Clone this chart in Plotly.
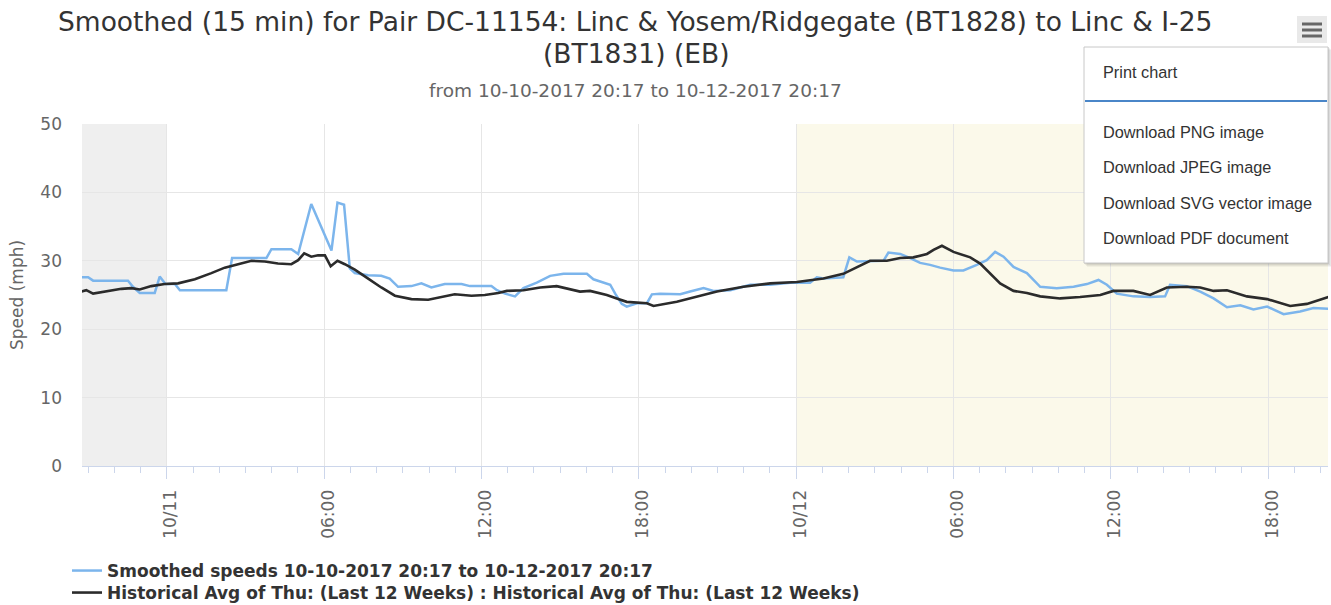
import pandas as pd
import plotly.graph_objects as go

# ---------------- data ----------------
BASE = "2017-10-11 00:00"          # hours below are measured from this instant
RANGE_START = "2017-10-10 20:46"
RANGE_END = "2017-10-12 20:17"

smoothed_hours = [-3.26, -3.00, -2.81, -1.48, -1.29, -1.03, -0.46, -0.27, -0.05, 0.31,
                  0.50, 2.27, 2.49, 3.80, 3.99, 4.75, 5.01, 5.51, 6.28, 6.51,
                  6.76, 6.98, 7.17, 7.68, 8.18, 8.50, 8.82, 9.33, 9.71, 10.09,
                  10.60, 11.24, 11.56, 12.38, 12.59, 12.90, 13.28, 13.60, 14.11, 14.62,
                  15.13, 16.02, 16.27, 16.91, 17.10, 17.35, 17.54, 17.93, 18.31, 18.50,
                  18.81, 19.58, 19.96, 20.47, 20.85, 21.49, 22.25, 23.01, 23.77, 24.53,
                  24.79, 25.04, 25.80, 26.03, 26.32, 26.70, 27.33, 27.52, 27.97, 28.35,
                  28.73, 29.11, 29.49, 30.00, 30.38, 30.89, 31.27, 31.59, 31.91, 32.29,
                  32.80, 33.31, 33.94, 34.58, 35.09, 35.53, 35.85, 36.23, 36.86, 37.50,
                  38.07, 38.26, 38.90, 39.41, 39.92, 40.43, 40.94, 41.44, 41.96, 42.59,
                  43.22, 43.73, 44.30]
smoothed_speed = [27.6, 27.6, 27.1, 27.1, 26.2, 25.3, 25.3, 27.7, 26.6, 26.6,
                  25.7, 25.7, 30.4, 30.4, 31.7, 31.7, 31.0, 38.3, 31.5, 38.5,
                  38.2, 28.9, 28.2, 27.9, 27.8, 27.4, 26.2, 26.3, 26.7, 26.1,
                  26.6, 26.6, 26.3, 26.3, 25.7, 25.2, 24.8, 26.0, 26.8, 27.8,
                  28.1, 28.1, 27.3, 26.5, 25.2, 23.7, 23.3, 23.8, 23.8, 25.1,
                  25.2, 25.1, 25.5, 26.0, 25.6, 25.7, 26.5, 26.5, 26.8, 26.8,
                  27.6, 27.4, 27.6, 30.5, 29.9, 29.9, 30.0, 31.2, 31.0, 30.4,
                  29.7, 29.4, 29.0, 28.6, 28.6, 29.4, 30.1, 31.3, 30.6, 29.1,
                  28.2, 26.2, 26.0, 26.2, 26.6, 27.2, 26.5, 25.2, 24.8, 24.7,
                  24.8, 26.5, 26.3, 25.5, 24.5, 23.2, 23.5, 22.9, 23.3, 22.2,
                  22.6, 23.1, 23.0]

hist_hours = [-3.26, -3.07, -2.81, -2.36, -1.73, -1.35, -1.03, -0.59, -0.08, 0.43,
              1.07, 1.70, 2.21, 2.72, 3.23, 3.74, 4.24, 4.75, 5.01, 5.24,
              5.51, 5.77, 6.03, 6.25, 6.51, 6.79, 7.17, 7.68, 8.18, 8.70,
              9.33, 9.97, 10.47, 10.98, 11.62, 12.13, 12.64, 12.97, 13.60, 14.24,
              14.87, 15.38, 15.76, 16.14, 16.78, 17.16, 17.54, 18.31, 18.56, 19.45,
              20.21, 20.98, 21.99, 23.01, 24.03, 25.04, 25.80, 26.32, 26.82, 27.46,
              27.97, 28.47, 28.99, 29.24, 29.56, 30.00, 30.64, 31.02, 31.40, 31.78,
              32.29, 32.80, 33.31, 34.07, 34.83, 35.60, 36.10, 36.86, 37.50, 38.14,
              38.90, 39.41, 39.92, 40.43, 41.19, 41.96, 42.84, 43.48, 44.30]
hist_speed = [25.5, 25.7, 25.2, 25.5, 25.9, 26.0, 25.8, 26.3, 26.6, 26.7,
              27.3, 28.2, 29.0, 29.5, 30.0, 29.9, 29.6, 29.5, 30.1, 31.1,
              30.6, 30.8, 30.8, 29.2, 30.0, 29.5, 28.7, 27.4, 26.1, 24.9,
              24.4, 24.3, 24.7, 25.1, 24.9, 25.0, 25.3, 25.6, 25.7, 26.1,
              26.3, 25.9, 25.5, 25.6, 25.0, 24.5, 24.0, 23.8, 23.4, 24.0,
              24.8, 25.5, 26.2, 26.7, 26.9, 27.4, 28.1, 29.1, 30.0, 30.0,
              30.4, 30.5, 31.0, 31.6, 32.2, 31.3, 30.5, 29.6, 28.2, 26.7,
              25.6, 25.3, 24.8, 24.5, 24.7, 25.0, 25.6, 25.6, 25.0, 26.1,
              26.2, 26.1, 25.6, 25.7, 24.8, 24.4, 23.4, 23.7, 24.7]

series_names = ["Smoothed speeds 10-10-2017 20:17 to 10-12-2017 20:17",
                "Historical Avg of Thu: (Last 12 Weeks) : Historical Avg of Thu: (Last 12 Weeks)"]

tick_times = ["2017-10-11 00:00", "2017-10-11 06:00", "2017-10-11 12:00", "2017-10-11 18:00",
              "2017-10-12 00:00", "2017-10-12 06:00", "2017-10-12 12:00", "2017-10-12 18:00"]
tick_labels = ["10/11", "06:00", "12:00", "18:00", "10/12", "06:00", "12:00", "18:00"]

gray_band = [RANGE_START, "2017-10-11 00:00"]
yellow_band = ["2017-10-12 00:00", RANGE_END]

title_line1 = "Smoothed (15 min) for Pair DC-11154: Linc & Yosem/Ridgegate (BT1828) to Linc & I-25"
title_line2 = "(BT1831) (EB)"
subtitle = "from 10-10-2017 20:17 to 10-12-2017 20:17"
menu_items = ["Print chart", "Download PNG image", "Download JPEG image",
              "Download SVG vector image", "Download PDF document"]

# ---------------- layout geometry (page pixels) ----------------
W, H = 1331, 605
PLOT_X0, PLOT_X1, PLOT_Y0, PLOT_Y1 = 82, 1328, 124, 466
L, R, T, B = PLOT_X0, W - PLOT_X1, PLOT_Y0, H - PLOT_Y1
PW, PH = PLOT_X1 - PLOT_X0, PLOT_Y1 - PLOT_Y0


def px(x):
    return (x - PLOT_X0) / PW


def py(y):
    return (PLOT_Y1 - y) / PH


base = pd.Timestamp(BASE)
x_sm = base + pd.to_timedelta(smoothed_hours, unit="h")
x_hi = base + pd.to_timedelta(hist_hours, unit="h")

FONT = "DejaVu Sans"
fig = go.Figure()
fig.add_trace(go.Scatter(x=x_sm, y=smoothed_speed, mode="lines", name=series_names[0],
                         line=dict(color="#7cb5ec", width=2.5), legend="legend"))
fig.add_trace(go.Scatter(x=x_hi, y=hist_speed, mode="lines", name=series_names[1],
                         line=dict(color="#2b2b2b", width=2.6), legend="legend2"))

shapes = [
    dict(type="rect", xref="x", yref="paper", x0=gray_band[0], x1=gray_band[1], y0=0, y1=1,
         fillcolor="#efefef", line_width=0, layer="below"),
    dict(type="rect", xref="x", yref="paper", x0=yellow_band[0], x1=yellow_band[1], y0=0, y1=1,
         fillcolor="#fbf9ea", line_width=0, layer="below"),
]

# export button (hamburger)
shapes.append(dict(type="rect", xref="paper", yref="paper", x0=px(1297), x1=px(1327),
                   y0=py(43), y1=py(16), fillcolor="#e9e9e9", line_width=0, layer="above"))
for yy in (24, 30, 36):
    shapes.append(dict(type="line", xref="paper", yref="paper", x0=px(1302), x1=px(1322),
                       y0=py(yy), y1=py(yy), line=dict(color="#666666", width=3), layer="above"))

# export menu box with soft shadow
for i, a in enumerate([0.04, 0.05, 0.06, 0.08]):
    off = 4 - i
    shapes.append(dict(type="rect", xref="paper", yref="paper",
                       x0=px(1084 + off - 1), x1=px(1328 + off), y0=py(263 + off), y1=py(47 + off - 1),
                       fillcolor=f"rgba(0,0,0,{a})", line_width=0, layer="above"))
shapes.append(dict(type="rect", xref="paper", yref="paper", x0=px(1084), x1=px(1328),
                   y0=py(263), y1=py(47), fillcolor="#ffffff",
                   line=dict(color="#c8c8c8", width=1), layer="above"))
shapes.append(dict(type="line", xref="paper", yref="paper", x0=px(1085), x1=px(1327),
                   y0=py(101), y1=py(101), line=dict(color="#4a86c8", width=2), layer="above"))

annotations = [
    dict(text=title_line1, x=px(635), y=py(22), xref="paper", yref="paper", showarrow=False,
         xanchor="center", yanchor="middle", font=dict(family=FONT, size=26.5, color="#333333")),
    dict(text=title_line2, x=px(636), y=py(54), xref="paper", yref="paper", showarrow=False,
         xanchor="center", yanchor="middle", font=dict(family=FONT, size=26.5, color="#333333")),
    dict(text=subtitle, x=px(635), y=py(91), xref="paper", yref="paper", showarrow=False,
         xanchor="center", yanchor="middle", font=dict(family=FONT, size=18.5, color="#666666")),
    dict(text="Speed (mph)", x=px(17), y=py(295), xref="paper", yref="paper", showarrow=False,
         textangle=-90, xanchor="center", yanchor="middle",
         font=dict(family=FONT, size=17, color="#666666")),
]
for label, yy in zip(menu_items, [72, 132, 167, 203, 238]):
    annotations.append(dict(text=label, x=px(1101), y=py(yy), xref="paper", yref="paper",
                            showarrow=False, xanchor="left", yanchor="middle",
                            font=dict(family="Liberation Sans", size=16.3, color="#333333")))

legend_font = dict(family=FONT, size=17, color="#333333", weight="bold")
fig.update_layout(
    width=W, height=H, autosize=False,
    margin=dict(l=L, r=R, t=T, b=B, pad=0, autoexpand=False),
    paper_bgcolor="#ffffff", plot_bgcolor="#ffffff",
    font=dict(family=FONT, size=17, color="#666666"),
    showlegend=True,
    legend=dict(x=px(67), y=py(553), xanchor="left", yanchor="top",
                bgcolor="rgba(0,0,0,0)", font=legend_font, itemwidth=30),
    legend2=dict(x=px(67), y=py(575), xanchor="left", yanchor="top",
                 bgcolor="rgba(0,0,0,0)", font=legend_font, itemwidth=30),
    shapes=shapes,
    annotations=annotations,
    hovermode=False,
)

fig.update_xaxes(
    type="date", range=[RANGE_START, RANGE_END],
    tickmode="array", tickvals=tick_times, ticktext=tick_labels, tickangle=-90,
    ticks="outside", ticklen=12, tickcolor="#ccd6eb", tickwidth=1,
    showline=True, linecolor="#ccd6eb", linewidth=1,
    showgrid=True, gridcolor="#e6e6e6", gridwidth=1,
    tickfont=dict(family=FONT, size=17, color="#666666"),
    ticklabelstandoff=4, ticklabelshift=4,
    minor=dict(dtick=3600000, tick0="2017-10-11 00:00", ticks="outside", ticklen=6,
               tickcolor="#ccd6eb", showgrid=False),
    zeroline=False, fixedrange=True,
)
fig.update_yaxes(
    range=[0, 50], tickvals=[0, 10, 20, 30, 40, 50], ticks="",
    showgrid=True, gridcolor="#e6e6e6", gridwidth=1, zeroline=False, showline=False,
    tickfont=dict(family=FONT, size=17, color="#666666"),
    ticklabelstandoff=19, fixedrange=True,
)

# the page body gets no default 8px margin so the figure sits at the window origin
fig.write_html("out.html", config={"displayModeBar": False},
               post_script="document.body.style.margin='0px';")
